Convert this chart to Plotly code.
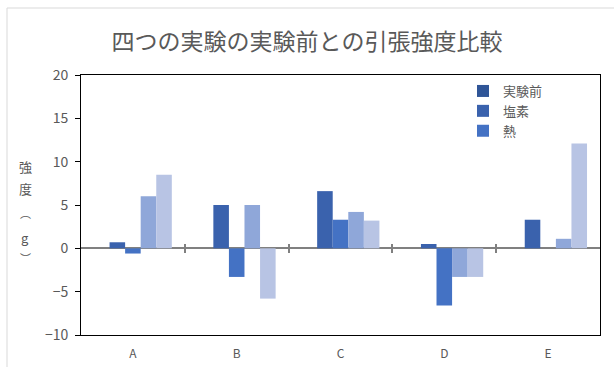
import plotly.graph_objects as go

# Tensile strength change relative to the pre-test value
categories = ["A", "B", "C", "D", "E"]
series_names = ["実験前", "塩素", "熱", "系列4", "系列5"]
before = [0, 0, 0, 0, 0]
chlorine = [0.7, 5.0, 6.6, 0.5, 3.3]
heat = [-0.6, -3.3, 3.3, -6.6, 0.0]
series4 = [6.0, 5.0, 4.2, -3.3, 1.1]
series5 = [8.5, -5.8, 3.2, -3.3, 12.1]
y_ticks = [-10, -5, 0, 5, 10, 15, 20]

colors = ["#2f5597", "#3a62ad", "#4472c4", "#8fa7d9", "#b8c4e4"]
values = [before, chlorine, heat, series4, series5]
in_legend = [True, True, True, False, False]

W, H = 614, 367
ML, MR, MT, MB = 81, 14, 75, 32
PW, PH = W - ML - MR, H - MT - MB
FONT = "Noto Sans CJK JP"
GRAY = "#595959"


def px(x):
    return (x - ML) / PW


def py(y):
    return (H - MB - y) / PH


fig = go.Figure()
for name, vals, col, show in zip(series_names, values, colors, in_legend):
    fig.add_trace(go.Bar(x=categories, y=vals, name=name, marker_color=col,
                         marker_line_width=0, showlegend=show))

# empty traces so the zero-line tick axes get drawn
for ax in ["x2", "x3"]:
    fig.add_trace(go.Scatter(x=[], y=[], xaxis=ax, yaxis="y", showlegend=False,
                             hoverinfo="skip"))

boundary_axis = dict(overlaying="x", anchor="free", position=1 / 3,
                     range=[-0.5, 4.5], tickvals=[0.5, 1.5, 2.5, 3.5], ticklen=4,
                     tickwidth=1.5, tickcolor="#808080", showticklabels=False,
                     showline=False, showgrid=False, zeroline=False,
                     automargin=False)

fig.update_layout(
    width=W, height=H,
    margin=dict(l=ML, r=MR, t=MT, b=MB),
    paper_bgcolor="white", plot_bgcolor="white",
    font=dict(family=FONT, color=GRAY, size=12),
    barmode="group", bargap=0.25, bargroupgap=0,
    title=dict(text="四つの実験の実験前との引張強度比較", x=0.5, xanchor="center",
               y=1 - 42 / H, yanchor="middle", yref="container",
               font=dict(size=23, color=GRAY, family=FONT)),
    xaxis=dict(type="category", showline=True, mirror=True, linecolor="black",
               linewidth=1, ticks="", showgrid=False, ticklabelstandoff=8,
               automargin=False, tickfont=dict(size=12, color=GRAY)),
    yaxis=dict(range=[-10, 20], tickvals=y_ticks, showline=True, mirror=True,
               linecolor="black", linewidth=1, ticks="outside", ticklen=5,
               tickcolor="black", showgrid=False, zeroline=True,
               zerolinecolor="#808080", zerolinewidth=1.5, automargin=False,
               tickfont=dict(size=14, color=GRAY), ticklabelstandoff=4),
    # category boundary ticks drawn across the zero line
    xaxis2=dict(boundary_axis, ticks="outside"),
    xaxis3=dict(boundary_axis, ticks="inside"),
    legend=dict(x=px(463), y=py(76), xanchor="left", yanchor="top",
                bgcolor="rgba(0,0,0,0)", font=dict(size=13, color=GRAY),
                itemwidth=30, tracegroupgap=0),
)

# outer chart frame
fig.add_shape(type="rect", xref="paper", yref="paper",
              x0=px(7), y0=py(H + 40), x1=px(W + 40), y1=py(8),
              line=dict(color="#d9d9d9", width=1), layer="below")

# stacked vertical axis title
for ch, ypos, size in zip(["強", "度", "︵", "g", "︶"],
                          [166, 188, 213, 237, 258], [13, 13, 11, 13, 11]):
    fig.add_annotation(text=ch, xref="paper", yref="paper", x=px(25), y=py(ypos),
                       showarrow=False, xanchor="center", yanchor="middle",
                       font=dict(size=size, color=GRAY, family=FONT))

fig.write_html("out.html")
